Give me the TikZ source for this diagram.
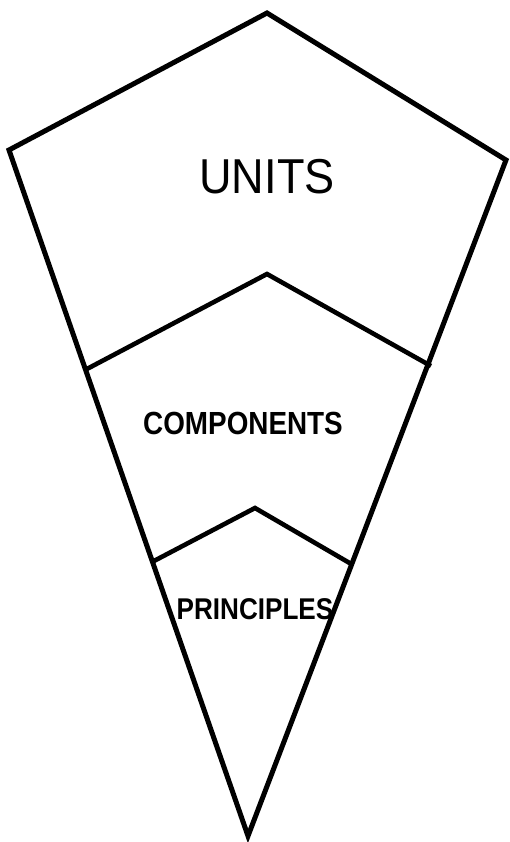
\documentclass[tikz,border=0pt]{standalone}
\usepackage{fontspec}
\setmainfont{Liberation Sans}
\newfontfamily\unitsfont[FakeStretch=0.92]{Liberation Sans}
\newfontfamily\tierfont[FakeStretch=0.87]{Liberation Sans Bold}
\begin{document}
\begin{tikzpicture}[
        x=1pt, y=-1pt,
        outline/.style={draw, line width=5pt, line join=miter},
        divider/.style={draw, line width=4.6pt, line join=miter},
        unitlabel/.style={font=\unitsfont\fontsize{49}{49}\selectfont, inner sep=0pt},
        tierlabel/.style={font=\tierfont\fontsize{32}{32}\selectfont, inner sep=0pt}
      ]
      \useasboundingbox (0,0) rectangle (510,842);
      % outer kite
      \coordinate (top)    at (267, 13);
      \coordinate (right)  at (506, 160);
      \coordinate (bottom) at (248, 836);
      \coordinate (left)   at (9, 150);
      % chevrons
      \coordinate (compL) at (85, 370);
      \coordinate (compP) at (267, 274);
      \coordinate (compR) at (431, 366);
      \coordinate (prinL) at (152, 562);
      \coordinate (prinP) at (255, 508);
      \coordinate (prinR) at (353, 565);
      \draw[outline] (top) -- (right) -- (bottom) -- (left) -- cycle;
      \draw[divider] (compL) -- (compP) -- (compR);
      \draw[divider] (prinL) -- (prinP) -- (prinR);
      \node[unitlabel] (units) at (267, 177) {UNITS};
      \node[tierlabel] (components) at (243, 423) {COMPONENTS};
      \node[tierlabel, font=\tierfont\fontsize{30}{30}\selectfont] (principles) at (255, 609) {PRINCIPLES};
    \end{tikzpicture}
\end{document}
